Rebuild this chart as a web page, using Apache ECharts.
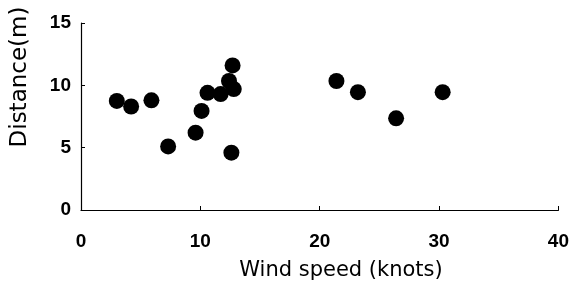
<!DOCTYPE html>
<html><head><meta charset="utf-8">
<script src="https://cdn.jsdelivr.net/npm/echarts@6/dist/echarts.min.js"></script>
<style>html,body{margin:0;padding:0;background:#fff}#c{width:572px;height:282px}</style>
</head><body><div id="c"></div>
<script>
const windSpeed = [3.0, 4.2, 5.9, 7.3, 9.6, 10.1, 10.6, 11.7, 12.4, 12.7, 12.8, 12.6, 21.4, 23.2, 26.4, 30.3];
const distance  = [8.75, 8.3, 8.8, 5.1, 6.2, 7.95, 9.4, 9.3, 10.35, 11.6, 9.7, 4.6, 10.35, 9.45, 7.35, 9.45];
const xTicks = [0, 10, 20, 30, 40];
const yTicks = [0, 5, 10, 15];
const xTitle = 'Wind speed (knots)';
const yTitle = 'Distance(m)';

const pts = windSpeed.map((x, i) => [x, distance[i]]);
const font = '"Liberation Sans", Arial, sans-serif';
const nameFont = '"DejaVu Sans", sans-serif';
const chart = echarts.init(document.getElementById('c'));
chart.setOption({
  animation: false,
  grid: { left: 81, right: 13, top: 23, bottom: 72 },
  graphic: [
    { type: 'text', x: 341, y: 271, style: { text: xTitle, fill: '#000', font: '21px ' + nameFont, textAlign: 'center', textVerticalAlign: 'middle' } },
    { type: 'text', x: 20, y: 77, rotation: Math.PI / 2, style: { text: yTitle, fill: '#000', font: '23px ' + nameFont, textAlign: 'center', textVerticalAlign: 'middle' } }
  ],
  xAxis: {
    type: 'value', min: xTicks[0], max: xTicks[xTicks.length - 1], interval: 10,
    splitLine: { show: false },
    axisLine: { lineStyle: { color: '#000', width: 1.2 } },
    axisTick: { inside: true, length: 4, lineStyle: { color: '#000' } },
    axisLabel: { color: '#000', fontFamily: font, fontWeight: 'bold', fontSize: 19, margin: 22 }
  },
  yAxis: {
    type: 'value', min: yTicks[0], max: yTicks[yTicks.length - 1], interval: 5,
    splitLine: { show: false },
    axisLine: { show: true, lineStyle: { color: '#000', width: 1.2 } },
    axisTick: { show: true, inside: true, length: 4, lineStyle: { color: '#000' } },
    axisLabel: { color: '#000', fontFamily: font, fontWeight: 'bold', fontSize: 19, margin: 10 }
  },
  series: [{
    type: 'scatter', data: pts, symbolSize: 16,
    itemStyle: { color: '#000', opacity: 1 }
  }]
});
</script></body></html>
